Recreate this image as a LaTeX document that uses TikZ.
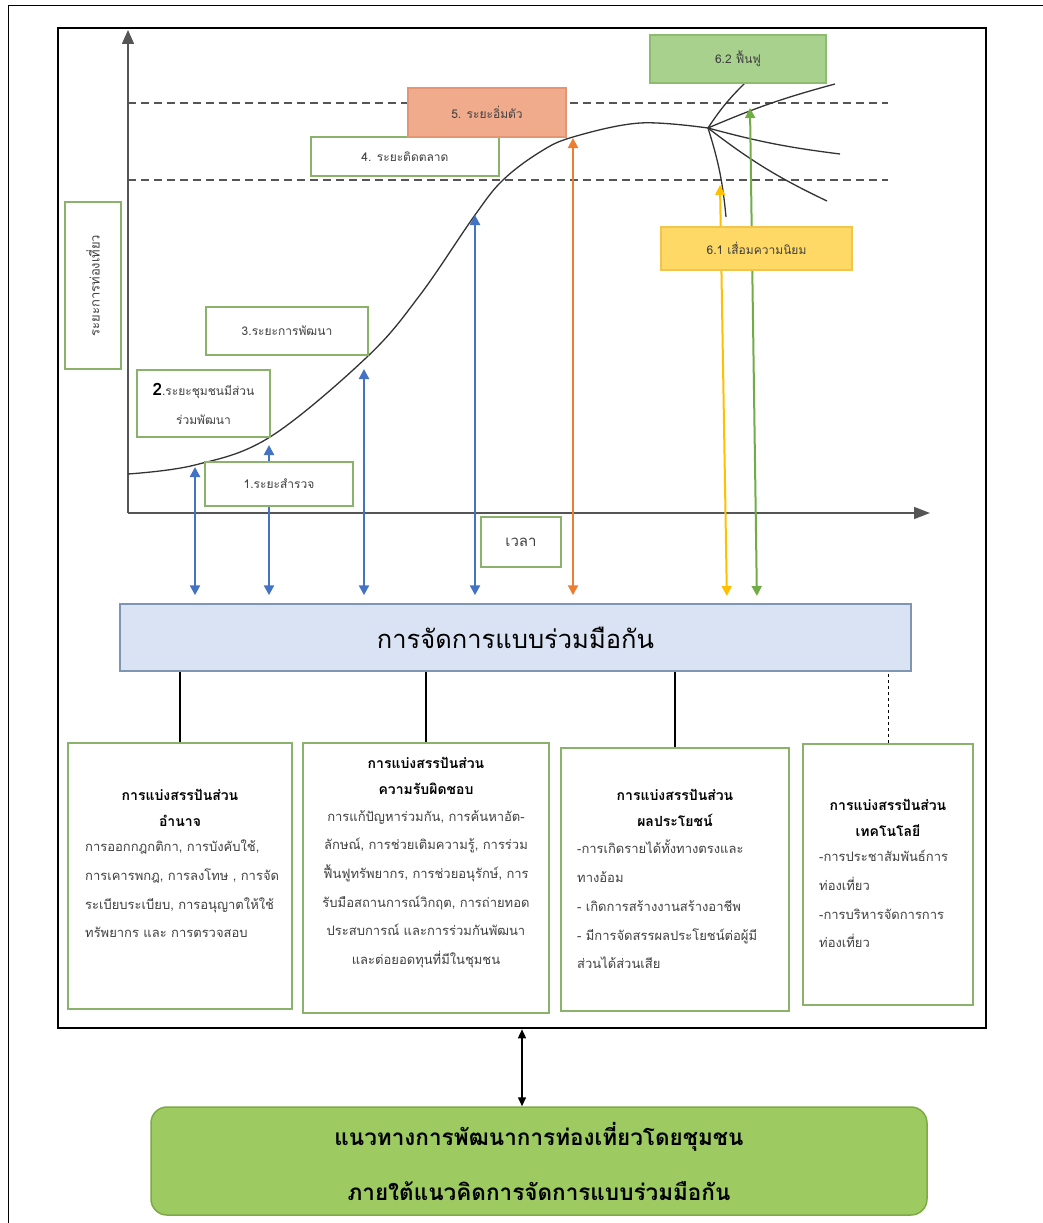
\documentclass[tikz,border=0pt]{standalone}
\usepackage{fontspec}
\newfontfamily\thaifont[Script=Thai]{Loma}
\usetikzlibrary{arrows.meta}

\definecolor{boxgreen}{HTML}{8AB26A}
\definecolor{textgray}{HTML}{404040}
\definecolor{curvegray}{HTML}{333333}
\definecolor{axisgray}{HTML}{555555}
\definecolor{arrowblue}{HTML}{4472C4}
\definecolor{arroworange}{HTML}{ED7D31}
\definecolor{arrowyellow}{HTML}{FFC000}
\definecolor{arrowgreen}{HTML}{70AD47}
\definecolor{satfill}{HTML}{F0AA8C}
\definecolor{satdraw}{HTML}{E39574}
\definecolor{declfill}{HTML}{FFD966}
\definecolor{decldraw}{HTML}{F2C44C}
\definecolor{recfill}{HTML}{A9D18E}
\definecolor{recdraw}{HTML}{8DBB6F}
\definecolor{collabfill}{HTML}{DAE3F3}
\definecolor{collabdraw}{HTML}{7F96B3}
\definecolor{goalfill}{HTML}{9DCB62}
\definecolor{goaldraw}{HTML}{7DAA45}

\begin{document}
\begin{tikzpicture}[x=1pt,y=-1pt,
    every node/.style={font=\thaifont},
    stagebox/.style={draw=boxgreen, line width=1.3pt, fill=white, inner sep=0pt,
        align=center, text=textgray, font=\thaifont\fontsize{12}{29}\selectfont},
    sharebox/.style={draw=boxgreen, line width=1.6pt, fill=white, inner sep=0pt},
    sharehead/.style={align=center, inner sep=0pt, font=\thaifont\bfseries\fontsize{14}{26}\selectfont},
    sharebody/.style={text=textgray, inner sep=0pt, font=\thaifont\fontsize{13}{28.7}\selectfont},
    curveline/.style={curvegray, line width=1.3pt},
    twoway/.style={{Triangle[width=10pt,length=10pt]}-{Triangle[width=10pt,length=10pt]},
        line width=2.3pt, shorten >=8pt}
]
    \useasboundingbox (0,0) rectangle (1043,1223);
    \fill[white] (0,0) rectangle (1043,1223);

    % outer and inner frames
    \draw[line width=1pt] (8,1230) -- (8,6) -- (1050,6);
    \node[draw, line width=2.6pt, minimum width=928pt, minimum height=1000pt, inner sep=0pt]
        (frame) at (522,528) {};

    % axes and levels
    \draw[axisgray, line width=1.6pt, -{Triangle[width=12pt,length=14pt]}] (128,513) -- (128,30);
    \draw[axisgray, line width=1.6pt, -{Triangle[width=12pt,length=16pt]}] (128,513) -- (930,513);
    \draw[axisgray, line width=1.3pt, dash pattern=on 8pt off 5pt] (128,103) -- (888,103);
    \draw[axisgray, line width=1.3pt, dash pattern=on 8pt off 5pt] (128,180) -- (888,180);

    % life cycle curve
    \draw[curveline] plot[smooth, tension=0.6] coordinates {(128,474) (195,465) (270,437)
        (367,357) (420,295) (475,215) (503,180) (540,152) (573,137) (640,123) (708,128)};
    \coordinate (peak) at (708,128);
    \draw[curveline] (peak) to[bend left=6] (745,83);
    \draw[curveline] (peak) to[bend left=4] (835,84);
    \draw[curveline] (peak) to[bend right=4] (840,154);
    \draw[curveline] (peak) to[bend right=6] (827,201);
    \draw[curveline] (peak) to[bend left=6] (726,217);

    % points on the curve
    \coordinate (c1) at (195,467);
    \coordinate (c2) at (269,445);
    \coordinate (c3) at (364,369);
    \coordinate (c4) at (475,215);
    \coordinate (c5) at (573,138);
    \coordinate (c61) at (720,185);
    \coordinate (c62) at (750,108);
    \coordinate (b61) at (727,604);
    \coordinate (b62) at (757,604);

    % collaboration box
    \node[draw=collabdraw, line width=1.5pt, fill=collabfill, minimum width=791pt, minimum height=67pt,
        inner sep=0pt, font=\thaifont\fontsize{25.5}{28}\selectfont] (collab) at (515.5,637.5) {การจัดการแบบร่วมมือกัน};

    % links between stages and collaboration
    \draw[twoway, arrowblue] (c1) -- (c1 |- collab.north);
    \draw[twoway, arrowblue] (c2) -- (c2 |- collab.north);
    \draw[twoway, arrowblue] (c3) -- (c3 |- collab.north);
    \draw[twoway, arrowblue] (c4) -- (c4 |- collab.north);
    \draw[twoway, arroworange, line width=2pt] (c5) -- (c5 |- collab.north);
    \draw[twoway, arrowyellow, line width=2pt] (c61) -- (b61);
    \draw[twoway, arrowgreen, line width=2pt] (c62) -- (b62);

    % stages
    \node[stagebox, minimum width=148pt, minimum height=44pt] (stage1) at (279,484) {1.ระยะสำรวจ};
    \node[stagebox, minimum width=133pt, minimum height=67pt] (stage2) at (203.5,403.5)
        {\textcolor{black}{\fontsize{17}{17}\selectfont\bfseries 2}.ระยะชุมชนมีส่วน\\ร่วมพัฒนา};
    \node[stagebox, minimum width=162pt, minimum height=48pt] (stage3) at (287,331) {3.ระยะการพัฒนา};
    \node[stagebox, minimum width=188pt, minimum height=39pt] (stage4) at (405,156.5) {4. ระยะติดตลาด};
    \node[stagebox, draw=satdraw, fill=satfill, minimum width=158pt, minimum height=49pt]
        (stage5) at (487,112.5) {5. ระยะอิ่มตัว};
    \node[stagebox, draw=decldraw, fill=declfill, minimum width=191pt, minimum height=43pt]
        (stage61) at (756.5,248.5) {6.1 เสื่อมความนิยม};
    \node[stagebox, draw=recdraw, fill=recfill, minimum width=176pt, minimum height=48pt]
        (stage62) at (738,59) {6.2 ฟื้นฟู};
    \node[stagebox, minimum width=80pt, minimum height=50pt, font=\thaifont\fontsize{15}{18}\selectfont]
        (timelabel) at (521,542) {เวลา};
    \node[stagebox, rotate=90, minimum width=167pt, minimum height=56pt, font=\thaifont\fontsize{13}{16}\selectfont]
        (ylabel) at (93,285.5) {ระยะการท่องเที่ยว};

    % sharing boxes
    \node[sharebox, minimum width=224pt, minimum height=266pt] (powerbox) at (180,876) {};
    \node[sharebox, minimum width=246pt, minimum height=270pt] (dutybox) at (426,878) {};
    \node[sharebox, minimum width=228pt, minimum height=263pt] (benefitbox) at (675,879.5) {};
    \node[sharebox, minimum width=170pt, minimum height=261pt] (techbox) at (888,874.5) {};

    \draw[line width=1.8pt] (powerbox.north) -- (powerbox.north |- collab.south);
    \draw[line width=1.8pt] (dutybox.north) -- (dutybox.north |- collab.south);
    \draw[line width=1.8pt] (benefitbox.north) -- (benefitbox.north |- collab.south);
    \draw[line width=1pt, dashed] (techbox.north) -- (techbox.north |- collab.south);

    \node[sharehead] (powerhead) at (180,808) {การแบ่งสรรปันส่วน\\อำนาจ};
    \node[sharebody, anchor=north west, align=left] (powerbody) at (85,840)
        {การออกกฎกติกา, การบังคับใช้,\\การเคารพกฎ, การลงโทษ , การจัด\\ระเบียบระเบียบ, การอนุญาตให้ใช้\\ทรัพยากร และ การตรวจสอบ};

    \node[sharehead] (dutyhead) at (426,776) {การแบ่งสรรปันส่วน\\ความรับผิดชอบ};
    \node[sharebody, anchor=north, align=center] (dutybody) at (426,810)
        {การแก้ปัญหาร่วมกัน, การค้นหาอัต-\\ลักษณ์, การช่วยเติมความรู้, การร่วม\\ฟื้นฟูทรัพยากร, การช่วยอนุรักษ์, การ\\รับมือสถานการณ์วิกฤต, การถ่ายทอด\\ประสบการณ์ และการร่วมกันพัฒนา\\และต่อยอดทุนที่มีในชุมชน};

    \node[sharehead] (benefithead) at (675,808) {การแบ่งสรรปันส่วน\\ผลประโยชน์};
    \node[sharebody, anchor=north west, align=left] (benefitbody) at (577,840)
        {-การเกิดรายได้ทั้งทางตรงและ\\ทางอ้อม\\- เกิดการสร้างงานสร้างอาชีพ\\- มีการจัดสรรผลประโยชน์ต่อผู้มี\\ส่วนได้ส่วนเสีย};

    \node[sharehead] (techhead) at (888,818) {การแบ่งสรรปันส่วน\\เทคโนโลยี};
    \node[sharebody, anchor=north west, align=left] (techbody) at (819,850)
        {-การประชาสัมพันธ์การ\\ท่องเที่ยว\\-การบริหารจัดการการ\\ท่องเที่ยว};

    % guideline
    \node[draw=goaldraw, line width=1.5pt, fill=goalfill, rounded corners=16pt, minimum width=776pt,
        minimum height=108pt, inner sep=0pt, align=center,
        font=\thaifont\bfseries\fontsize{22.5}{55}\selectfont] (goal) at (539,1161)
        {แนวทางการพัฒนาการท่องเที่ยวโดยชุมชน\\ภายใต้แนวคิดการจัดการแบบร่วมมือกัน};
    \draw[line width=1.5pt, {Triangle[width=8pt,length=9pt]}-{Triangle[width=8pt,length=9pt]}]
        (frame.south) -- (frame.south |- goal.north);
\end{tikzpicture}
\end{document}
